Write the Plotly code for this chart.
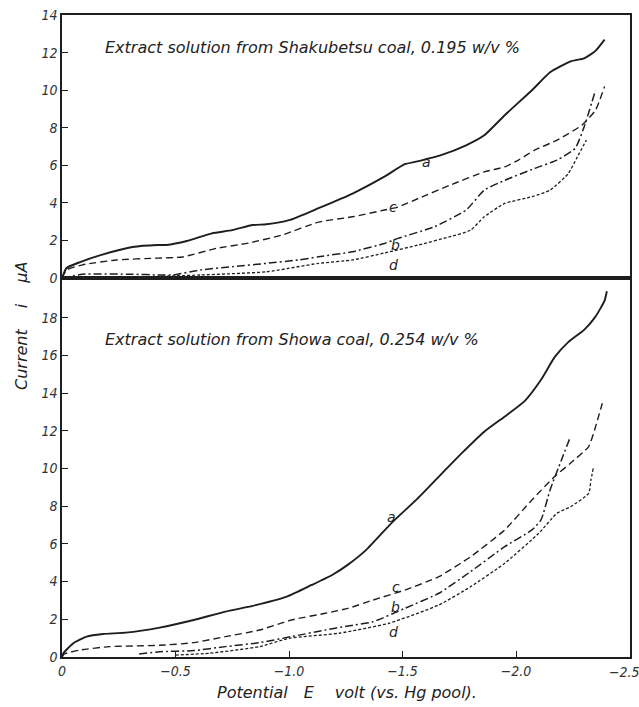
import plotly.graph_objects as go
from plotly.subplots import make_subplots

# Polarograms of coal extract solutions: current i (μA) vs potential E (V vs. Hg pool)

# ---- Shakubetsu coal, 0.195 w/v % ----
sh_a_E = [0.0, -0.02, -0.08, -0.17, -0.31, -0.42, -0.46, -0.55, -0.66, -0.75, -0.84, -0.90,
          -1.00, -1.13, -1.28, -1.42, -1.51, -1.56, -1.67, -1.78, -1.86, -1.95, -2.07, -2.15,
          -2.24, -2.30, -2.35, -2.39]
sh_a_i = [0.0, 0.53, 0.85, 1.22, 1.65, 1.76, 1.76, 1.97, 2.38, 2.55, 2.82, 2.86,
          3.08, 3.72, 4.5, 5.4, 6.06, 6.2, 6.55, 7.07, 7.6, 8.67, 10.0, 10.96,
          11.54, 11.7, 12.1, 12.7]

sh_c_E = [0.0, -0.02, -0.09, -0.24, -0.42, -0.53, -0.68, -0.82, -0.97, -1.13, -1.28, -1.42,
          -1.48, -1.57, -1.71, -1.86, -1.95, -2.01, -2.08, -2.18, -2.29, -2.35, -2.39]
sh_c_i = [0.0, 0.43, 0.70, 0.96, 1.06, 1.12, 1.58, 1.86, 2.29, 2.98, 3.26, 3.62,
          3.78, 4.24, 4.95, 5.65, 5.92, 6.28, 6.8, 7.34, 8.14, 8.94, 10.2]

sh_b_E = [0.0, -0.09, -0.31, -0.43, -0.49, -0.61, -0.75, -0.90, -1.04, -1.13, -1.28, -1.42,
          -1.48, -1.64, -1.78, -1.86, -1.95, -2.08, -2.18, -2.26, -2.30, -2.35]
sh_b_i = [0.0, 0.2, 0.2, 0.16, 0.16, 0.43, 0.6, 0.78, 0.96, 1.13, 1.4, 1.84,
          2.11, 2.73, 3.62, 4.68, 5.2, 5.83, 6.28, 6.9, 8.05, 10.0]

sh_d_E = [0.0, -0.31, -0.61, -0.90, -1.13, -1.28, -1.42, -1.57, -1.71, -1.80, -1.86, -1.95,
          -2.07, -2.15, -2.23, -2.27, -2.31]
sh_d_i = [0.0, 0.05, 0.16, 0.33, 0.78, 0.96, 1.33, 1.76, 2.2, 2.55, 3.26, 3.97,
          4.33, 4.68, 5.56, 6.45, 7.35]

# ---- Showa coal, 0.254 w/v % ----
sw_a_E = [0.0, -0.006, -0.05, -0.108, -0.18, -0.28, -0.43, -0.58, -0.72, -0.84, -0.99, -1.10,
          -1.19, -1.26, -1.34, -1.45, -1.56, -1.66, -1.76, -1.86, -1.96, -2.04, -2.11, -2.17,
          -2.23, -2.30, -2.35, -2.39, -2.40]
sw_a_i = [0.0, 0.2, 0.73, 1.08, 1.22, 1.29, 1.56, 1.96, 2.41, 2.71, 3.2, 3.82,
          4.35, 4.9, 5.68, 7.09, 8.33, 9.57, 10.8, 11.95, 12.84, 13.6, 14.7, 15.9,
          16.7, 17.35, 18.05, 18.9, 19.4]

sw_c_E = [0.0, -0.01, -0.08, -0.21, -0.43, -0.58, -0.72, -0.87, -1.01, -1.16, -1.26, -1.37,
          -1.51, -1.66, -1.80, -1.95, -2.07, -2.17, -2.24, -2.32, -2.35, -2.38]
sw_c_i = [0.0, 0.16, 0.37, 0.55, 0.62, 0.76, 1.08, 1.43, 1.96, 2.32, 2.58, 3.02,
          3.55, 4.26, 5.32, 6.74, 8.33, 9.57, 10.28, 11.16, 12.2, 13.46]

sw_b_E = [-0.34, -0.43, -0.58, -0.72, -0.87, -1.01, -1.16, -1.26, -1.37, -1.51, -1.66, -1.80,
          -1.95, -2.07, -2.11, -2.15, -2.20, -2.24]
sw_b_i = [0.16, 0.28, 0.34, 0.55, 0.76, 1.08, 1.43, 1.65, 1.87, 2.58, 3.38, 4.53,
          5.85, 6.74, 7.27, 8.86, 10.45, 11.69]

sw_d_E = [-0.50, -0.65, -0.87, -1.00, -1.22, -1.44, -1.66, -1.80, -1.95, -2.10, -2.18, -2.24,
          -2.32, -2.33, -2.34]
sw_d_i = [0.1, 0.2, 0.55, 0.99, 1.26, 1.79, 2.76, 3.73, 4.97, 6.56, 7.62, 7.97,
          8.68, 9.39, 10.0]

# curve letters: (E, i) anchor for each label
top_labels = {"a": (-1.605, 6.2), "c": (-1.46, 3.8), "b": (-1.47, 1.78), "d": (-1.46, 0.7)}
bot_labels = {"a": (-1.45, 7.44), "c": (-1.47, 3.73), "b": (-1.47, 2.67), "d": (-1.46, 1.34)}

x_tickvals = [0, -0.5, -1.0, -1.5, -2.0, -2.5]
x_ticktext = ["0", "−0.5", "−1.0", "−1.5", "−2.0", "−2.5"]
top_yticks = [0, 2, 4, 6, 8, 10, 12, 14]
bot_yticks = [0, 2, 4, 6, 8, 10, 12, 14, 16, 18]

INK = "#1e1e1e"
TICK_FONT_FAMILY = "Liberation Sans Narrow, DejaVu Sans Condensed, Liberation Sans, sans-serif"
TEXT_FONT_FAMILY = "DejaVu Sans, Liberation Sans, sans-serif"

styles = {
    "a": dict(color=INK, width=1.9, dash="solid"),
    "c": dict(color=INK, width=1.4, dash="7px,4px"),
    "b": dict(color=INK, width=1.5, dash="8px,3px,2px,3px"),
    "d": dict(color=INK, width=1.3, dash="3px,2px"),
}

fig = make_subplots(rows=2, cols=1, shared_xaxes=True, vertical_spacing=0,
                    row_heights=[263, 379])

panels = [
    (1, {"a": (sh_a_E, sh_a_i), "c": (sh_c_E, sh_c_i), "b": (sh_b_E, sh_b_i), "d": (sh_d_E, sh_d_i)}),
    (2, {"a": (sw_a_E, sw_a_i), "c": (sw_c_E, sw_c_i), "b": (sw_b_E, sw_b_i), "d": (sw_d_E, sw_d_i)}),
]
for row, curves in panels:
    for key, (E, i) in curves.items():
        fig.add_trace(go.Scatter(x=E, y=i, mode="lines",
                                 line=dict(shape="spline", smoothing=0.5, **styles[key]),
                                 showlegend=False, hoverinfo="skip"), row=row, col=1)

label_font = dict(family=TEXT_FONT_FAMILY, size=14, color=INK, style="italic")
for key, (E, i) in top_labels.items():
    fig.add_annotation(x=E, y=i, xref="x", yref="y", text=key, showarrow=False, font=label_font)
for key, (E, i) in bot_labels.items():
    fig.add_annotation(x=E, y=i, xref="x2", yref="y2", text=key, showarrow=False, font=label_font)

tick_font = dict(family=TICK_FONT_FAMILY, size=14, color="#333", style="italic")
axis_common = dict(showline=True, linecolor=INK, linewidth=1.5, mirror=True,
                   showgrid=False, zeroline=False, ticks="inside", ticklen=6,
                   tickcolor=INK, tickwidth=1, tickfont=tick_font, automargin=False)

# the last x label sits at the frame's right edge; it is written as an annotation
# nudged left so it stays on the page
edge_label = x_ticktext[-1]
x_ticktext_axis = x_ticktext[:-1] + [""]

fig.update_xaxes(range=[0, -2.502], tickvals=x_tickvals, ticktext=x_ticktext_axis, **axis_common)
fig.update_xaxes(showticklabels=False, ticks="", row=1, col=1)
fig.update_yaxes(range=[0, 14.01], tickvals=top_yticks, **axis_common, row=1, col=1)
fig.update_yaxes(range=[0, 20.1], tickvals=bot_yticks, **axis_common, row=2, col=1)

fig.add_annotation(x=x_tickvals[-1], y=-0.0234, xref="x2", yref="paper", xanchor="center",
                   yanchor="middle", xshift=-5, text=edge_label, showarrow=False, font=tick_font)

title_font = dict(family=TEXT_FONT_FAMILY, size=16, color="#222", style="italic")
fig.add_annotation(x=0.072, y=0.9486, xref="paper", yref="paper", xanchor="left", yanchor="middle",
                   text="Extract solution from Shakubetsu coal, 0.195 w/v %", showarrow=False,
                   font=title_font)
fig.add_annotation(x=0.072, y=0.4938, xref="paper", yref="paper", xanchor="left", yanchor="middle",
                   text="Extract solution from Showa coal, 0.254 w/v %", showarrow=False,
                   font=title_font)

axis_title_font = dict(family=TEXT_FONT_FAMILY, size=16, color="#222", style="italic")
fig.add_annotation(x=-0.0704, y=0.5156, xref="paper", yref="paper", textangle=-90,
                   xanchor="center", yanchor="middle",
                   text="Current\u2003 i \u2003μA", showarrow=False, font=axis_title_font)
fig.add_annotation(x=0.502, y=-0.056, xref="paper", yref="paper",
                   xanchor="center", yanchor="middle",
                   text="Potential\u2003E\u2003 volt (vs. Hg pool).", showarrow=False,
                   font=axis_title_font)

fig.update_layout(width=639, height=707, margin=dict(l=62, r=9, t=15, b=50),
                  plot_bgcolor="white", paper_bgcolor="white")

fig.write_html("out.html")
